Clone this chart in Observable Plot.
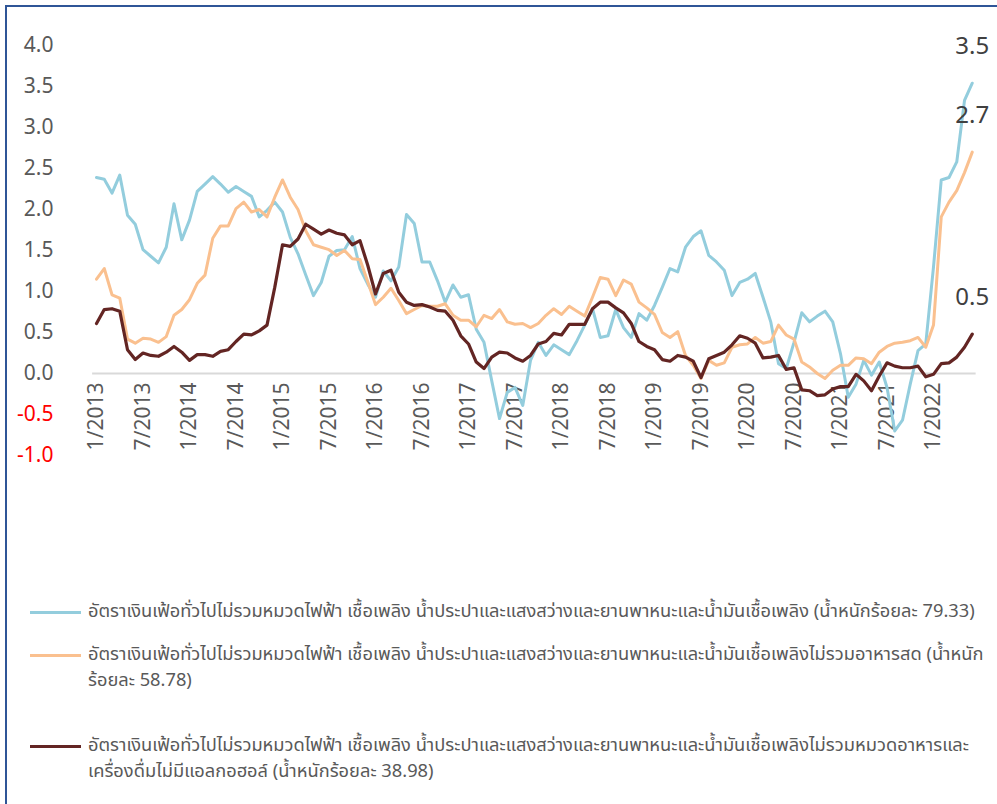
<!DOCTYPE html>
<html><head><meta charset="utf-8">
<script src="https://cdn.jsdelivr.net/npm/d3@7"></script>
<script src="https://cdn.jsdelivr.net/npm/@observablehq/plot@0.6"></script>
<style>
html,body{margin:0;padding:0;background:#fff;overflow:hidden;width:997px;height:804px;}
#frame{position:absolute;left:5px;top:5px;width:1010px;height:820px;border-left:2px solid #2F5597;border-top:2px solid #2F5597;}
#chart{position:absolute;left:0;top:0;}
.leg{position:absolute;left:0;font-family:"Noto Sans Thai","Leelawadee UI",Tahoma,"Noto Sans",sans-serif;font-size:18.3px;color:#595959;line-height:26px;white-space:nowrap;}
.sw{position:absolute;left:23px;width:51px;top:12px;}
.tx{position:absolute;left:81px;top:0;}
</style>
</head><body>
<div id="frame"><div id="chart"></div><div id="legend"></div></div>
<script>
// Month tick labels (every 6 months, Jan 2013 .. Jan 2022)
const tickLabels = ["1/2013","7/2013","1/2014","7/2014","1/2015","7/2015","1/2016","7/2016","1/2017","7/2017","1/2018","7/2018","1/2019","7/2019","1/2020","7/2020","1/2021","7/2021","1/2022"];
const yTicksPos = [0,0.5,1,1.5,2,2.5,3,3.5,4];
const yTicksNeg = [-0.5,-1];

// Series names (legend)
const seriesNames = [
  ["อัตราเงินเฟ้อทั่วไปไม่รวมหมวดไฟฟ้า เชื้อเพลิง น้ำประปาและแสงสว่างและยานพาหนะและน้ำมันเชื้อเพลิง (น้ำหนักร้อยละ 79.33)"],
  ["อัตราเงินเฟ้อทั่วไปไม่รวมหมวดไฟฟ้า เชื้อเพลิง น้ำประปาและแสงสว่างและยานพาหนะและน้ำมันเชื้อเพลิงไม่รวมอาหารสด (น้ำหนัก", "ร้อยละ 58.78)"],
  ["อัตราเงินเฟ้อทั่วไปไม่รวมหมวดไฟฟ้า เชื้อเพลิง น้ำประปาและแสงสว่างและยานพาหนะและน้ำมันเชื้อเพลิงไม่รวมหมวดอาหารและ", "เครื่องดื่มไม่มีแอลกอฮอล์ (น้ำหนักร้อยละ 38.98)"]
];
const seriesColors = ["#93CDDD","#FAC08F","#632523"];
const endLabels = ["3.5","2.7","0.5"];

// Monthly values, Jan 2013 .. Jun 2022
const exEnergy = [2.39,2.37,2.20,2.42,1.93,1.82,1.51,1.43,1.35,1.54,
 2.07,1.63,1.87,2.22,2.31,2.40,2.31,2.21,2.28,2.22,
 2.16,1.91,1.99,2.09,1.97,1.66,1.46,1.20,0.95,1.11,
 1.43,1.50,1.51,1.67,1.28,1.09,0.93,1.25,1.13,1.30,
 1.94,1.83,1.36,1.36,1.13,0.87,1.08,0.93,0.96,0.54,
 0.38,-0.09,-0.55,-0.23,-0.17,-0.39,0.16,0.38,0.22,0.35,
 0.29,0.23,0.40,0.59,0.79,0.44,0.46,0.78,0.56,0.44,
 0.73,0.65,0.83,1.05,1.28,1.24,1.54,1.67,1.74,1.44,
 1.36,1.26,0.95,1.11,1.15,1.22,0.93,0.63,0.12,0.06,
 0.38,0.74,0.63,0.70,0.76,0.63,0.24,-0.29,-0.13,0.16,
 -0.02,0.14,-0.17,-0.70,-0.57,-0.13,0.28,0.36,1.30,2.36,
 2.39,2.58,3.33,3.54];
const exEnergyFreshFood = [1.15,1.28,0.96,0.92,0.42,0.37,0.43,0.42,0.38,0.45,
 0.71,0.78,0.90,1.10,1.20,1.65,1.80,1.80,2.01,2.09,
 1.97,2.00,1.91,2.15,2.36,2.15,2.00,1.74,1.57,1.54,
 1.51,1.44,1.50,1.40,1.39,1.12,0.84,0.93,1.04,0.89,
 0.73,0.78,0.83,0.82,0.82,0.85,0.71,0.65,0.65,0.57,
 0.71,0.67,0.78,0.63,0.60,0.61,0.56,0.61,0.71,0.79,
 0.72,0.82,0.76,0.70,0.93,1.17,1.15,0.95,1.14,1.09,
 0.87,0.80,0.72,0.50,0.44,0.51,0.22,0.10,-0.06,0.16,
 0.10,0.13,0.32,0.35,0.36,0.44,0.37,0.39,0.59,0.47,
 0.42,0.14,0.08,0.00,-0.06,0.04,0.10,0.10,0.19,0.18,
 0.12,0.26,0.33,0.37,0.38,0.40,0.44,0.32,0.59,1.91,
 2.09,2.23,2.45,2.70];
const exEnergyFood = [0.61,0.78,0.79,0.76,0.29,0.17,0.25,0.22,0.21,0.26,
 0.33,0.26,0.16,0.23,0.23,0.21,0.27,0.29,0.39,0.48,
 0.47,0.52,0.59,1.05,1.57,1.55,1.64,1.82,1.76,1.70,
 1.75,1.71,1.69,1.57,1.62,1.32,0.97,1.22,1.26,0.99,
 0.87,0.83,0.84,0.81,0.77,0.76,0.65,0.46,0.36,0.14,
 0.06,0.20,0.26,0.25,0.19,0.15,0.22,0.36,0.39,0.49,
 0.47,0.60,0.60,0.60,0.79,0.87,0.87,0.80,0.74,0.61,
 0.39,0.33,0.29,0.17,0.15,0.22,0.20,0.15,-0.05,0.18,
 0.22,0.26,0.35,0.46,0.43,0.37,0.19,0.20,0.22,0.05,
 0.07,-0.20,-0.21,-0.27,-0.26,-0.19,-0.16,-0.16,-0.01,-0.09,
 -0.21,-0.03,0.13,0.09,0.07,0.07,0.09,-0.04,-0.01,0.12,
 0.13,0.20,0.32,0.48];

const series = [exEnergy, exEnergyFreshFood, exEnergyFood];
const rows = series.flatMap((vals, s) => vals.map((v, i) => ({i, v, s})));
const last = series.map((vals, s) => ({i: vals.length - 1, v: vals[vals.length - 1], s, t: endLabels[s]}));
const ticks = tickLabels.map((t, k) => ({i: k * 6, t}));
const font = '"Noto Sans","Open Sans",sans-serif';

const chart = Plot.plot({
  width: 990, height: 520,
  marginLeft: 89, marginRight: 25.25, marginTop: 38, marginBottom: 72,
  x: {type: "linear", domain: [0, exEnergy.length - 1], axis: null},
  y: {domain: [-1, 4], axis: null},
  style: {fontFamily: font, background: "transparent", overflow: "visible"},
  marks: [
    Plot.ruleY([0], {x1: -0.5, x2: exEnergy.length - 0.5, stroke: "#D9D9D9", strokeWidth: 2}),
    Plot.text(yTicksPos, {y: d => d, text: d => d.toFixed(1), frameAnchor: "left", textAnchor: "end", dx: -43, fontSize: 21, fill: "#595959"}),
    Plot.text(yTicksNeg, {y: d => d, text: d => d.toFixed(1), frameAnchor: "left", textAnchor: "end", dx: -43, fontSize: 21, fill: "#FF0000"}),
    Plot.text(ticks, {x: "i", y: 0, text: "t", rotate: -90, textAnchor: "end", lineAnchor: "middle", dy: 9, fontSize: 21, fill: "#595959"}),
    ...series.map((vals, s) => Plot.line(rows.filter(r => r.s === s), {x: "i", y: "v", stroke: seriesColors[s], strokeWidth: s === 2 ? 3.2 : 3, strokeLinejoin: "round"})),
    Plot.text(last, {x: "i", y: "v", text: "t", dy: -37, fontSize: 24, fill: "#404040"})
  ]
});
document.getElementById("chart").appendChild(chart);

// Legend
const legTops = [592, 635, 726];
const legend = document.getElementById("legend");
seriesNames.forEach((lines, s) => {
  const d = document.createElement("div");
  d.className = "leg";
  d.style.top = legTops[s] + "px";
  const sw = document.createElement("div");
  sw.className = "sw";
  sw.style.height = "3px";
  sw.style.background = seriesColors[s];
  const tx = document.createElement("div");
  tx.className = "tx";
  tx.innerHTML = lines.map(l => l.replace(/&/g, "&amp;")).join("<br>");
  d.appendChild(sw); d.appendChild(tx);
  legend.appendChild(d);
});
</script>
</body></html>
